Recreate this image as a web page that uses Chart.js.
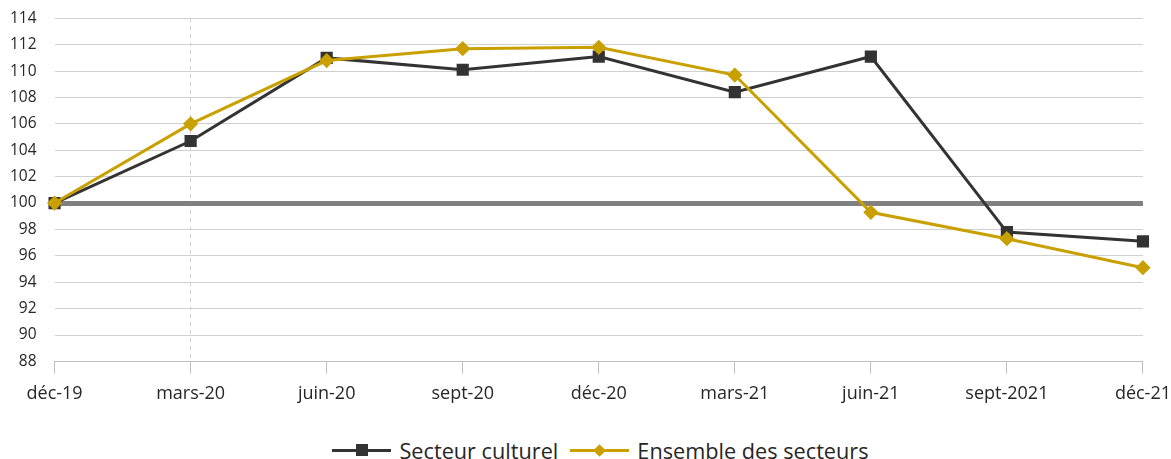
<!DOCTYPE html>
<html>
<head>
<meta charset="utf-8">
<script src="https://cdn.jsdelivr.net/npm/chart.js@4/dist/chart.umd.min.js"></script>
<style>
  body { margin: 0; background: #fff; font-family: "Open Sans", sans-serif; overflow: hidden; }
  #wrap { position: relative; width: 1189px; height: 424px; margin: -9px 0 0 -8px; }
  #legende { width: 1171px; display: flex; justify-content: center; align-items: center; padding-left: 30px; box-sizing: border-box; height: 70px; font-size: 21.7px; color: #262626; }
  .item { display: flex; align-items: center; margin: 0 6px; }
  .trait { position: relative; width: 59px; height: 3px; margin-right: 8px; }
  .trait i { position: absolute; left: 50%; top: 50%; }
</style>
</head>
<body>
<div id="wrap"><canvas id="graphique"></canvas></div>
<div id="legende">
  <div class="item"><span class="trait" style="background:#333333"><i style="width:12px;height:12px;margin:-6px 0 0 -6px;background:#333333"></i></span>Secteur culturel</div>
  <div class="item"><span class="trait" style="background:#c9a000"><i style="width:9px;height:9px;margin:-4.5px 0 0 -4.5px;background:#c9a000;transform:rotate(45deg)"></i></span>Ensemble des secteurs</div>
</div>
<script>
var trimestres = ['déc-19', 'mars-20', 'juin-20', 'sept-20', 'déc-20', 'mars-21', 'juin-21', 'sept-2021', 'déc-21'];
var secteur_culturel = [100, 104.7, 111.0, 110.1, 111.1, 108.4, 111.1, 97.8, 97.1];
var ensemble_secteurs = [100, 106.0, 110.8, 111.7, 111.8, 109.7, 99.3, 97.3, 95.1];

var ctx = document.getElementById('graphique').getContext('2d');
var options = {
  type: 'line',
  data: {
    labels: trimestres,
    datasets: [{
      label: 'Secteur culturel',
      data: secteur_culturel,
      borderColor: '#333333',
      backgroundColor: '#333333',
      borderWidth: 3,
      pointStyle: 'rect',
      pointRadius: 6.5,
      pointHoverRadius: 6.5,
      tension: 0,
      clip: false,
      order: 2
    }, {
      label: 'Ensemble des secteurs',
      data: ensemble_secteurs,
      borderColor: '#c9a000',
      backgroundColor: '#c9a000',
      borderWidth: 3,
      pointStyle: 'rectRot',
      pointRadius: 5.5,
      pointHoverRadius: 5.5,
      tension: 0,
      clip: false,
      order: 1
    }]
  },
  options: {
    responsive: true,
    maintainAspectRatio: false,
    animation: false,
    layout: { padding: { top: 2, right: 14, left: 0, bottom: 0 } },
    plugins: { legend: { display: false }, tooltip: { enabled: false } },
    scales: {
      x: {
        offset: false,
        border: { display: true, color: '#bfbfbf', width: 1, dash: [4, 4] },
        grid: {
          drawOnChartArea: true,
          color: function(c) { return c.index == 1 ? '#d0d0d0' : 'rgba(0,0,0,0)'; },
          tickLength: 12,
          tickColor: '#bfbfbf',
          tickBorderDash: [],
          lineWidth: 1
        },
        ticks: { color: '#262626', font: { family: 'Open Sans', size: 18 }, padding: 10, maxRotation: 0, autoSkip: false }
      },
      y: {
        min: 88,
        max: 114,
        border: { display: false },
        grid: {
          drawTicks: false,
          color: function(c) { return c.tick && c.tick.value == 100 ? '#808080' : '#d0d0d0'; },
          lineWidth: function(c) { return c.tick && c.tick.value == 100 ? 5 : 1; }
        },
        ticks: { stepSize: 2, color: '#262626', font: { family: 'Open Sans', size: 15.5 }, padding: 18 }
      }
    }
  }
};
window.graphique = new Chart(ctx, options);
</script>
</body>
</html>
